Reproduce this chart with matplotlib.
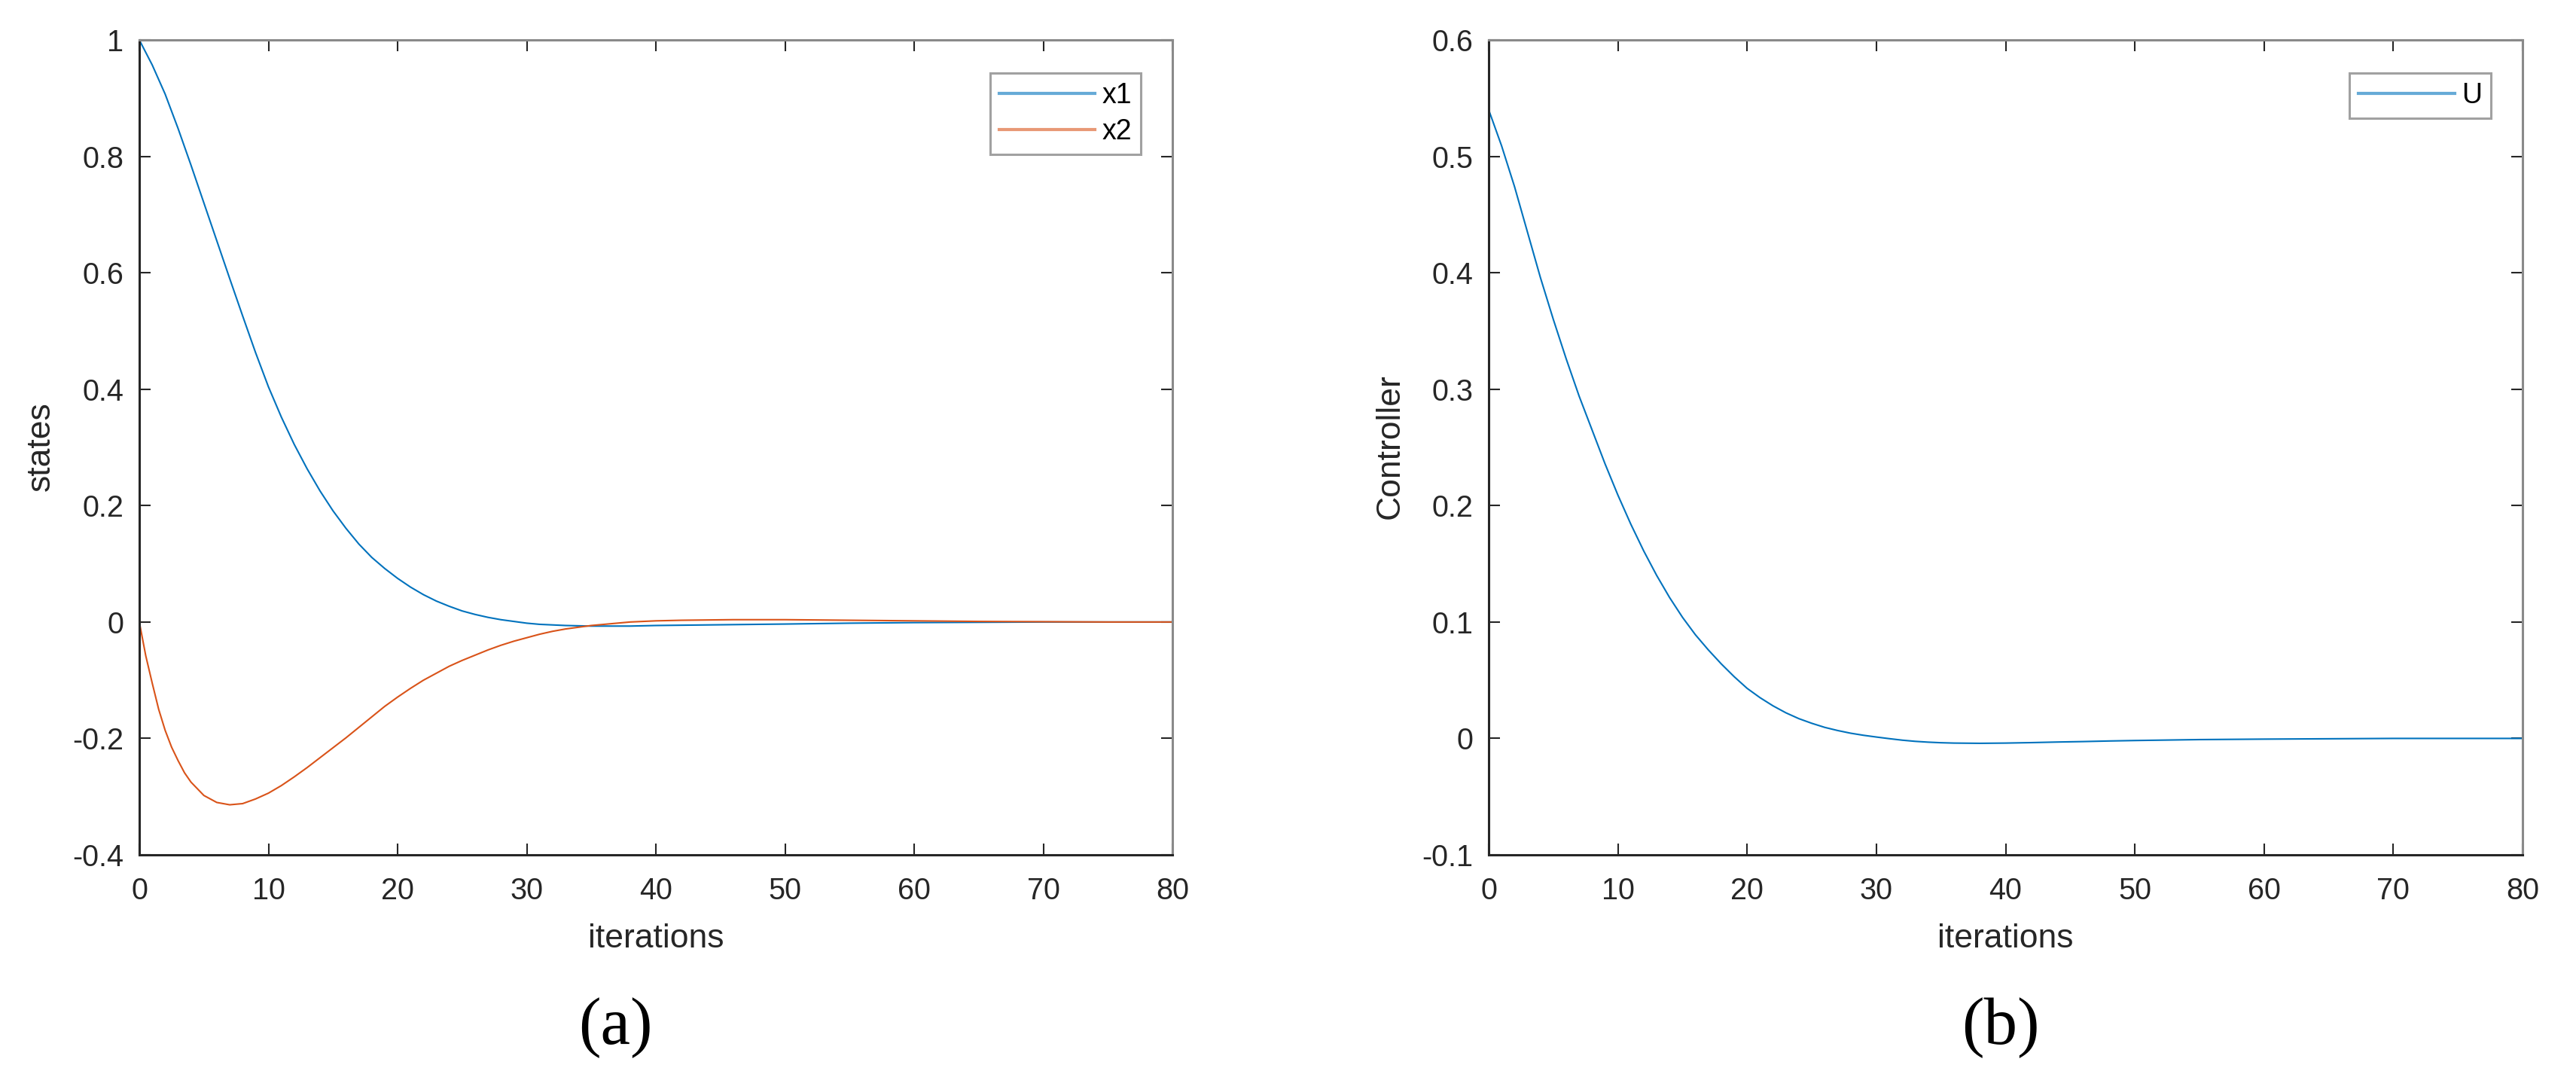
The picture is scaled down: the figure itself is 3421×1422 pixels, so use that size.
import matplotlib
matplotlib.use("Agg")
import matplotlib.pyplot as plt

plt.rcParams['font.family'] = ['Liberation Sans', 'DejaVu Sans']
plt.rcParams['axes.unicode_minus'] = False

# ---- data ----
k_x1 = [0, 1, 2, 3, 4, 5, 6, 7, 8, 9, 10, 11, 12, 13, 14, 15, 16, 17, 18, 19, 20,
        21, 22, 23, 24, 25, 26, 27, 28, 29, 30, 31, 32, 33, 34, 35, 36, 37, 38, 39,
        40, 42, 44, 46, 48, 50, 55, 60, 65, 70, 75, 80]
x1 = [1.000, 0.957, 0.907, 0.848, 0.785, 0.720, 0.655, 0.590, 0.526, 0.463, 0.404,
      0.352, 0.305, 0.263, 0.225, 0.191, 0.161, 0.134, 0.111, 0.092, 0.075,
      0.060, 0.047, 0.036, 0.027, 0.019, 0.013, 0.008, 0.004, 0.001, -0.002,
      -0.004, -0.005, -0.006, -0.0065, -0.007, -0.007, -0.007, -0.007, -0.0065,
      -0.006, -0.0055, -0.005, -0.0045, -0.004, -0.0035, -0.002, -0.001, -0.0005,
      0.0, 0.0, 0.0]

k_x2 = [0, 0.5, 1, 1.5, 2, 2.5, 3, 3.5, 4, 5, 6, 7, 8, 9, 10, 11, 12, 13, 14, 15,
        16, 17, 18, 19, 20, 21, 22, 23, 24, 25, 26, 27, 28, 29, 30, 31, 32, 33, 34,
        35, 36, 37, 38, 39, 40, 42, 44, 46, 48, 50, 55, 60, 65, 70, 75, 80]
x2 = [0.000, -0.058, -0.105, -0.150, -0.186, -0.215, -0.238, -0.259, -0.275, -0.298,
      -0.310, -0.314, -0.312, -0.304, -0.294, -0.281, -0.266, -0.250, -0.233,
      -0.216, -0.199, -0.181, -0.163, -0.145, -0.129, -0.114, -0.100, -0.088,
      -0.076, -0.066, -0.057, -0.048, -0.040, -0.033, -0.027, -0.021, -0.016,
      -0.012, -0.009, -0.006, -0.004, -0.002, 0.000, 0.001, 0.002, 0.003, 0.0035,
      0.004, 0.004, 0.004, 0.003, 0.002, 0.001, 0.0005, 0.000, 0.000]

k_u = [0, 1, 2, 3, 4, 5, 6, 7, 8, 9, 10, 11, 12, 13, 14, 15, 16, 17, 18, 19, 20,
       21, 22, 23, 24, 25, 26, 27, 28, 29, 30, 31, 32, 33, 34, 35, 36, 38, 40, 42,
       44, 46, 48, 50, 55, 60, 65, 70, 75, 80]
u = [0.540, 0.509, 0.474, 0.435, 0.396, 0.360, 0.326, 0.294, 0.265, 0.236, 0.209,
     0.184, 0.161, 0.140, 0.121, 0.104, 0.089, 0.076, 0.064, 0.053, 0.043,
     0.035, 0.028, 0.022, 0.017, 0.013, 0.0095, 0.0068, 0.0045, 0.0027, 0.0012,
     -0.0002, -0.0015, -0.0025, -0.0032, -0.0037, -0.004, -0.0042, -0.004, -0.0036,
     -0.0031, -0.0027, -0.0022, -0.0018, -0.001, -0.0006, -0.0003, 0.0, 0.0, 0.0]

xticks = [0, 10, 20, 30, 40, 50, 60, 70, 80]
yticks_a = [-0.4, -0.2, 0, 0.2, 0.4, 0.6, 0.8, 1]
yticklabels_a = ['-0.4', '-0.2', '0', '0.2', '0.4', '0.6', '0.8', '1']
yticks_b = [-0.1, 0, 0.1, 0.2, 0.3, 0.4, 0.5, 0.6]
yticklabels_b = ['-0.1', '0', '0.1', '0.2', '0.3', '0.4', '0.5', '0.6']

BLUE = '#0072BD'
ORANGE = '#D95319'
DARK = '#262626'
GRAY = '#8a8a8a'

W, H = 3421, 1422
fig = plt.figure(figsize=(W / 100, H / 100), dpi=100)

ax_bottom = 1 - 1135 / H
ax_h = (1135 - 53) / H
axA = fig.add_axes([185 / W, ax_bottom, 1372 / W, ax_h])
axB = fig.add_axes([1977 / W, ax_bottom, 1373 / W, ax_h])


def style(ax, yticks, ylabels, ylim):
    ax.set_xlim(0, 80)
    ax.set_ylim(*ylim)
    ax.set_xticks(xticks)
    ax.set_xticklabels([str(t) for t in xticks])
    ax.set_yticks(yticks)
    ax.set_yticklabels(ylabels)
    ax.tick_params(axis='both', direction='in', length=10.5, width=1.5,
                   color=DARK, labelcolor=DARK, labelsize=28.5,
                   top=True, right=True)
    ax.tick_params(axis='x', pad=21)
    ax.tick_params(axis='y', pad=15)
    for s in ('left', 'bottom'):
        ax.spines[s].set_color(DARK)
        ax.spines[s].set_linewidth(2.2)
    for s in ('top', 'right'):
        ax.spines[s].set_color(GRAY)
        ax.spines[s].set_linewidth(2.2)


style(axA, yticks_a, yticklabels_a, (-0.4, 1.0))
style(axB, yticks_b, yticklabels_b, (-0.1, 0.6))

axA.plot(k_x1, x1, color=BLUE, lw=1.5, label='x1')
axA.plot(k_x2, x2, color=ORANGE, lw=1.5, label='x2')
axB.plot(k_u, u, color=BLUE, lw=1.5, label='U')

for ax in (axA, axB):
    leg = ax.legend(loc='upper right', bbox_to_anchor=(0.9694, 0.9593),
                    borderaxespad=0, fontsize=27, frameon=True, fancybox=False,
                    handlelength=3.4, handletextpad=0.25, borderpad=0.32,
                    labelspacing=0.32)
    leg.get_frame().set_edgecolor(GRAY)
    leg.get_frame().set_linewidth(2.2)
    for line in leg.get_lines():
        line.set_linewidth(3)
        line.set_alpha(0.6)
    for t in leg.get_texts():
        t.set_color('black')

# axis labels
fig.text((185 + 1557) / 2 / W, 1 - 1246 / H, 'iterations', ha='center', va='center',
         fontsize=32, color=DARK)
fig.text((1977 + 3350) / 2 / W, 1 - 1246 / H, 'iterations', ha='center', va='center',
         fontsize=32, color=DARK)
fig.text(54 / W, 1 - 593 / H, 'states', rotation=90, ha='center', va='center',
         fontsize=32, color=DARK)
fig.text(1846 / W, 1 - 593 / H, 'Controller', rotation=90, ha='center', va='center',
         fontsize=32, color=DARK)

# captions
fig.text(817 / W, 1 - 1365 / H, '(a)', ha='center', va='center', fontsize=64,
         family='Liberation Serif', color='black')
fig.text(2657 / W, 1 - 1365 / H, '(b)', ha='center', va='center', fontsize=64,
         family='Liberation Serif', color='black')

fig.savefig('out.png', dpi=100, facecolor='white')
